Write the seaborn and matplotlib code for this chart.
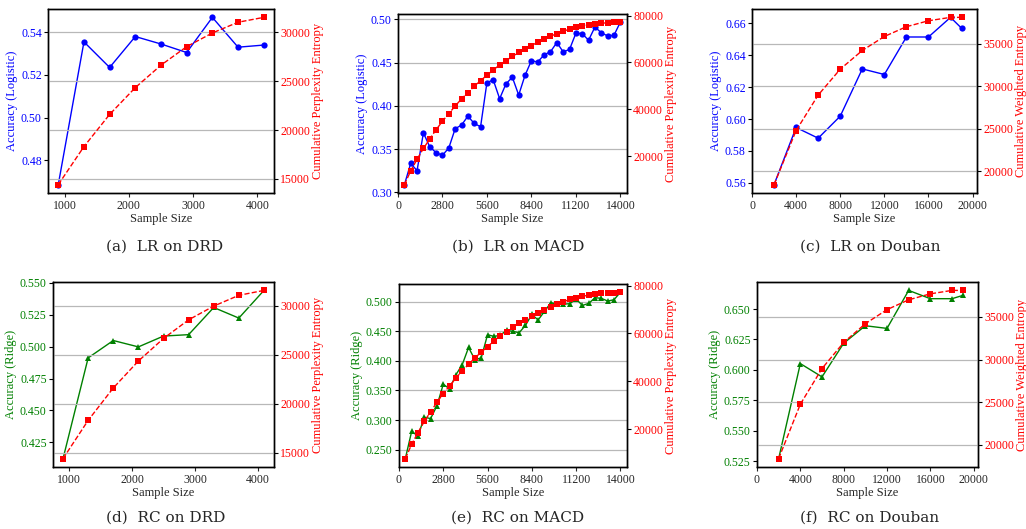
import matplotlib
matplotlib.use("Agg")
import matplotlib.pyplot as plt
import seaborn as sns

# ---- data ----
drd_size = [900, 1300, 1700, 2100, 2500, 2900, 3300, 3700, 4100]
drd_acc_lr = [0.4685, 0.5355, 0.5235, 0.538, 0.5345, 0.5305, 0.547, 0.533, 0.534]
drd_acc_rc = [0.4122, 0.4912, 0.5048, 0.4998, 0.5083, 0.5094, 0.5307, 0.5224, 0.5441]
drd_entropy = [14400, 18300, 21600, 24350, 26650, 28550, 29950, 31050, 31550]

macd_size = [400, 800, 1200, 1600, 2000, 2400, 2800, 3200, 3600, 4000,
             4400, 4800, 5200, 5600, 6000, 6400, 6800, 7200, 7600, 8000,
             8400, 8800, 9200, 9600, 10000, 10400, 10800, 11200, 11600, 12000,
             12400, 12800, 13200, 13600, 14000]
macd_acc_lr = [0.3088, 0.3336, 0.3252, 0.369, 0.3527, 0.346, 0.343, 0.3515, 0.3737, 0.3779,
               0.3882, 0.3798, 0.376, 0.4271, 0.430, 0.4084, 0.4256, 0.4332, 0.4126, 0.4355,
               0.4523, 0.4508, 0.4592, 0.4626, 0.4733, 0.4626, 0.4653, 0.484, 0.4836, 0.476,
               0.4912, 0.4847, 0.4809, 0.4817, 0.4969]
macd_acc_rc = [0.2346, 0.2808, 0.2728, 0.3047, 0.3024, 0.3241, 0.3605, 0.3526, 0.3765, 0.3936,
               0.4226, 0.4021, 0.4049, 0.4442, 0.4414, 0.4431, 0.4516, 0.4499, 0.4476, 0.4601,
               0.4784, 0.4692, 0.4835, 0.4983, 0.496, 0.496, 0.4966, 0.5046, 0.4937, 0.4972,
               0.5068, 0.5057, 0.5011, 0.5034, 0.5159]
macd_entropy = [7700, 13700, 18600, 23250, 27300, 31250, 34900, 38150, 41350, 44450,
                47100, 49800, 52200, 54550, 56800, 58900, 60750, 62550, 64250, 65800,
                67200, 68600, 69900, 71150, 72300, 73250, 74250, 74950, 75500, 76050,
                76500, 76750, 76900, 77050, 77200]

douban_size = [2000, 4000, 6000, 8000, 10000, 12000, 14000, 16000, 18000, 19000]
douban_acc_lr = [0.5589, 0.5947, 0.5880, 0.6018, 0.6314, 0.6279, 0.6514, 0.6514, 0.6637, 0.6569]
douban_acc_rc = [0.5272, 0.6052, 0.5943, 0.6219, 0.6363, 0.6341, 0.6653, 0.6585, 0.6585, 0.6612]
douban_entropy = [18400, 24770, 28950, 32000, 34200, 35850, 37000, 37700, 38100, 38100]

captions = ["(a)  LR on DRD", "(b)  LR on MACD", "(c)  LR on Douban",
            "(d)  RC on DRD", "(e)  RC on MACD", "(f)  RC on Douban"]

drd_acc_ticks_lr = [0.48, 0.50, 0.52, 0.54]
drd_acc_ticks_rc = [0.425, 0.450, 0.475, 0.500, 0.525, 0.550]
drd_ent_ticks = [15000, 20000, 25000, 30000]
macd_acc_ticks_lr = [0.30, 0.35, 0.40, 0.45, 0.50]
macd_acc_ticks_rc = [0.25, 0.30, 0.35, 0.40, 0.45, 0.50]
macd_ent_ticks = [20000, 40000, 60000, 80000]
macd_x_ticks = [0, 2800, 5600, 8400, 11200, 14000]
douban_acc_ticks_lr = [0.56, 0.58, 0.60, 0.62, 0.64, 0.66]
douban_acc_ticks_rc = [0.525, 0.550, 0.575, 0.600, 0.625, 0.650]
douban_ent_ticks = [20000, 25000, 30000, 35000]
douban_x_ticks = [0, 4000, 8000, 12000, 16000, 20000]

sns.set_style("ticks")
plt.rcParams['font.family'] = ['Liberation Serif', 'DejaVu Serif']

W, H = 1026, 529
fig = plt.figure(figsize=(W / 100, H / 100), dpi=100)

# axes boxes in pixels: left, right, top, bottom
boxes = [(48, 274, 9, 193), (398, 627, 14, 193), (752, 977, 9, 193),
         (53, 274, 282, 467), (399, 627, 284, 467), (757, 978, 282, 467)]
caption_pos = [(165, 247), (518, 247), (870, 247), (166, 518), (518, 518), (870, 518)]

panels = [
    (drd_size, drd_acc_lr, drd_entropy, "LR", "DRD"),
    (macd_size, macd_acc_lr, macd_entropy, "LR", "MACD"),
    (douban_size, douban_acc_lr, douban_entropy, "LR", "Douban"),
    (drd_size, drd_acc_rc, drd_entropy, "RC", "DRD"),
    (macd_size, macd_acc_rc, macd_entropy, "RC", "MACD"),
    (douban_size, douban_acc_rc, douban_entropy, "RC", "Douban"),
]

for i, (x, acc, ent, model, ds) in enumerate(panels):
    l, r, t, b = boxes[i]
    ax = fig.add_axes([l / W, 1 - b / H, (r - l) / W, (b - t) / H])
    ax2 = ax.twinx()

    col = "blue" if model == "LR" else "green"
    mk = "o" if model == "LR" else "^"
    sns.lineplot(x=x, y=acc, ax=ax, color=col, marker=mk, markersize=4.5,
                 markeredgewidth=0, linewidth=1)
    sns.lineplot(x=x, y=ent, ax=ax2, color="red", marker="s", markersize=4.5,
                 markeredgewidth=0, linewidth=1, linestyle="--")

    if ds == "DRD":
        acc_ticks = drd_acc_ticks_lr if model == "LR" else drd_acc_ticks_rc
        ent_ticks = drd_ent_ticks
        ent_label = "Cumulative Perplexity Entropy"
    elif ds == "MACD":
        acc_ticks = macd_acc_ticks_lr if model == "LR" else macd_acc_ticks_rc
        ent_ticks = macd_ent_ticks
        ent_label = "Cumulative Perplexity Entropy"
        ax.set_xticks(macd_x_ticks)
        ax.set_xlim(0, 14420)
    else:
        acc_ticks = douban_acc_ticks_lr if model == "LR" else douban_acc_ticks_rc
        ent_ticks = douban_ent_ticks
        ent_label = "Cumulative Weighted Entropy"
        ax.set_xticks(douban_x_ticks)
        ax.set_xlim(0, 20400)

    dec = 2 if model == "LR" else 3
    ax.set_yticks(acc_ticks)
    ax.set_yticklabels([f"{v:.{dec}f}" for v in acc_ticks])
    ax2.set_yticks(ent_ticks)
    ax2.set_yticklabels([str(v) for v in ent_ticks])

    ax.set_xticklabels([str(v) for v in ax.get_xticks().astype(int)])

    ax.set_xlabel("Sample Size", fontsize=9, labelpad=1)
    acc_label = "Accuracy (Logistic)" if model == "LR" else "Accuracy (Ridge)"
    ax.set_ylabel(acc_label, color=col, fontsize=9, labelpad=2)
    ax2.set_ylabel(ent_label, color="red", fontsize=9, labelpad=1)

    ax.tick_params(axis="y", colors=col, labelsize=8.5, length=3, width=0.8, pad=1.5)
    ax.tick_params(axis="y", color="black")
    ax.tick_params(axis="x", labelsize=8.5, length=3, width=0.8, pad=2)
    ax2.tick_params(axis="y", colors="red", labelsize=8.5, length=3, width=0.8, pad=1.5)
    ax2.tick_params(axis="y", color="black")

    grid_ax = ax if ds == "MACD" else ax2
    grid_ax.grid(axis="y", color="#b8b8b8", linewidth=0.9)
    for a in (ax, ax2):
        for s in a.spines.values():
            s.set_color("black")
            s.set_linewidth(1.0)
        a.spines["right"].set_visible(True)
        a.spines["top"].set_visible(True)

    cx, cy = caption_pos[i]
    fig.text(cx / W, 1 - cy / H, captions[i], ha="center", va="center",
             fontsize=11, family="DejaVu Serif")

fig.savefig("out.png", dpi=100)
